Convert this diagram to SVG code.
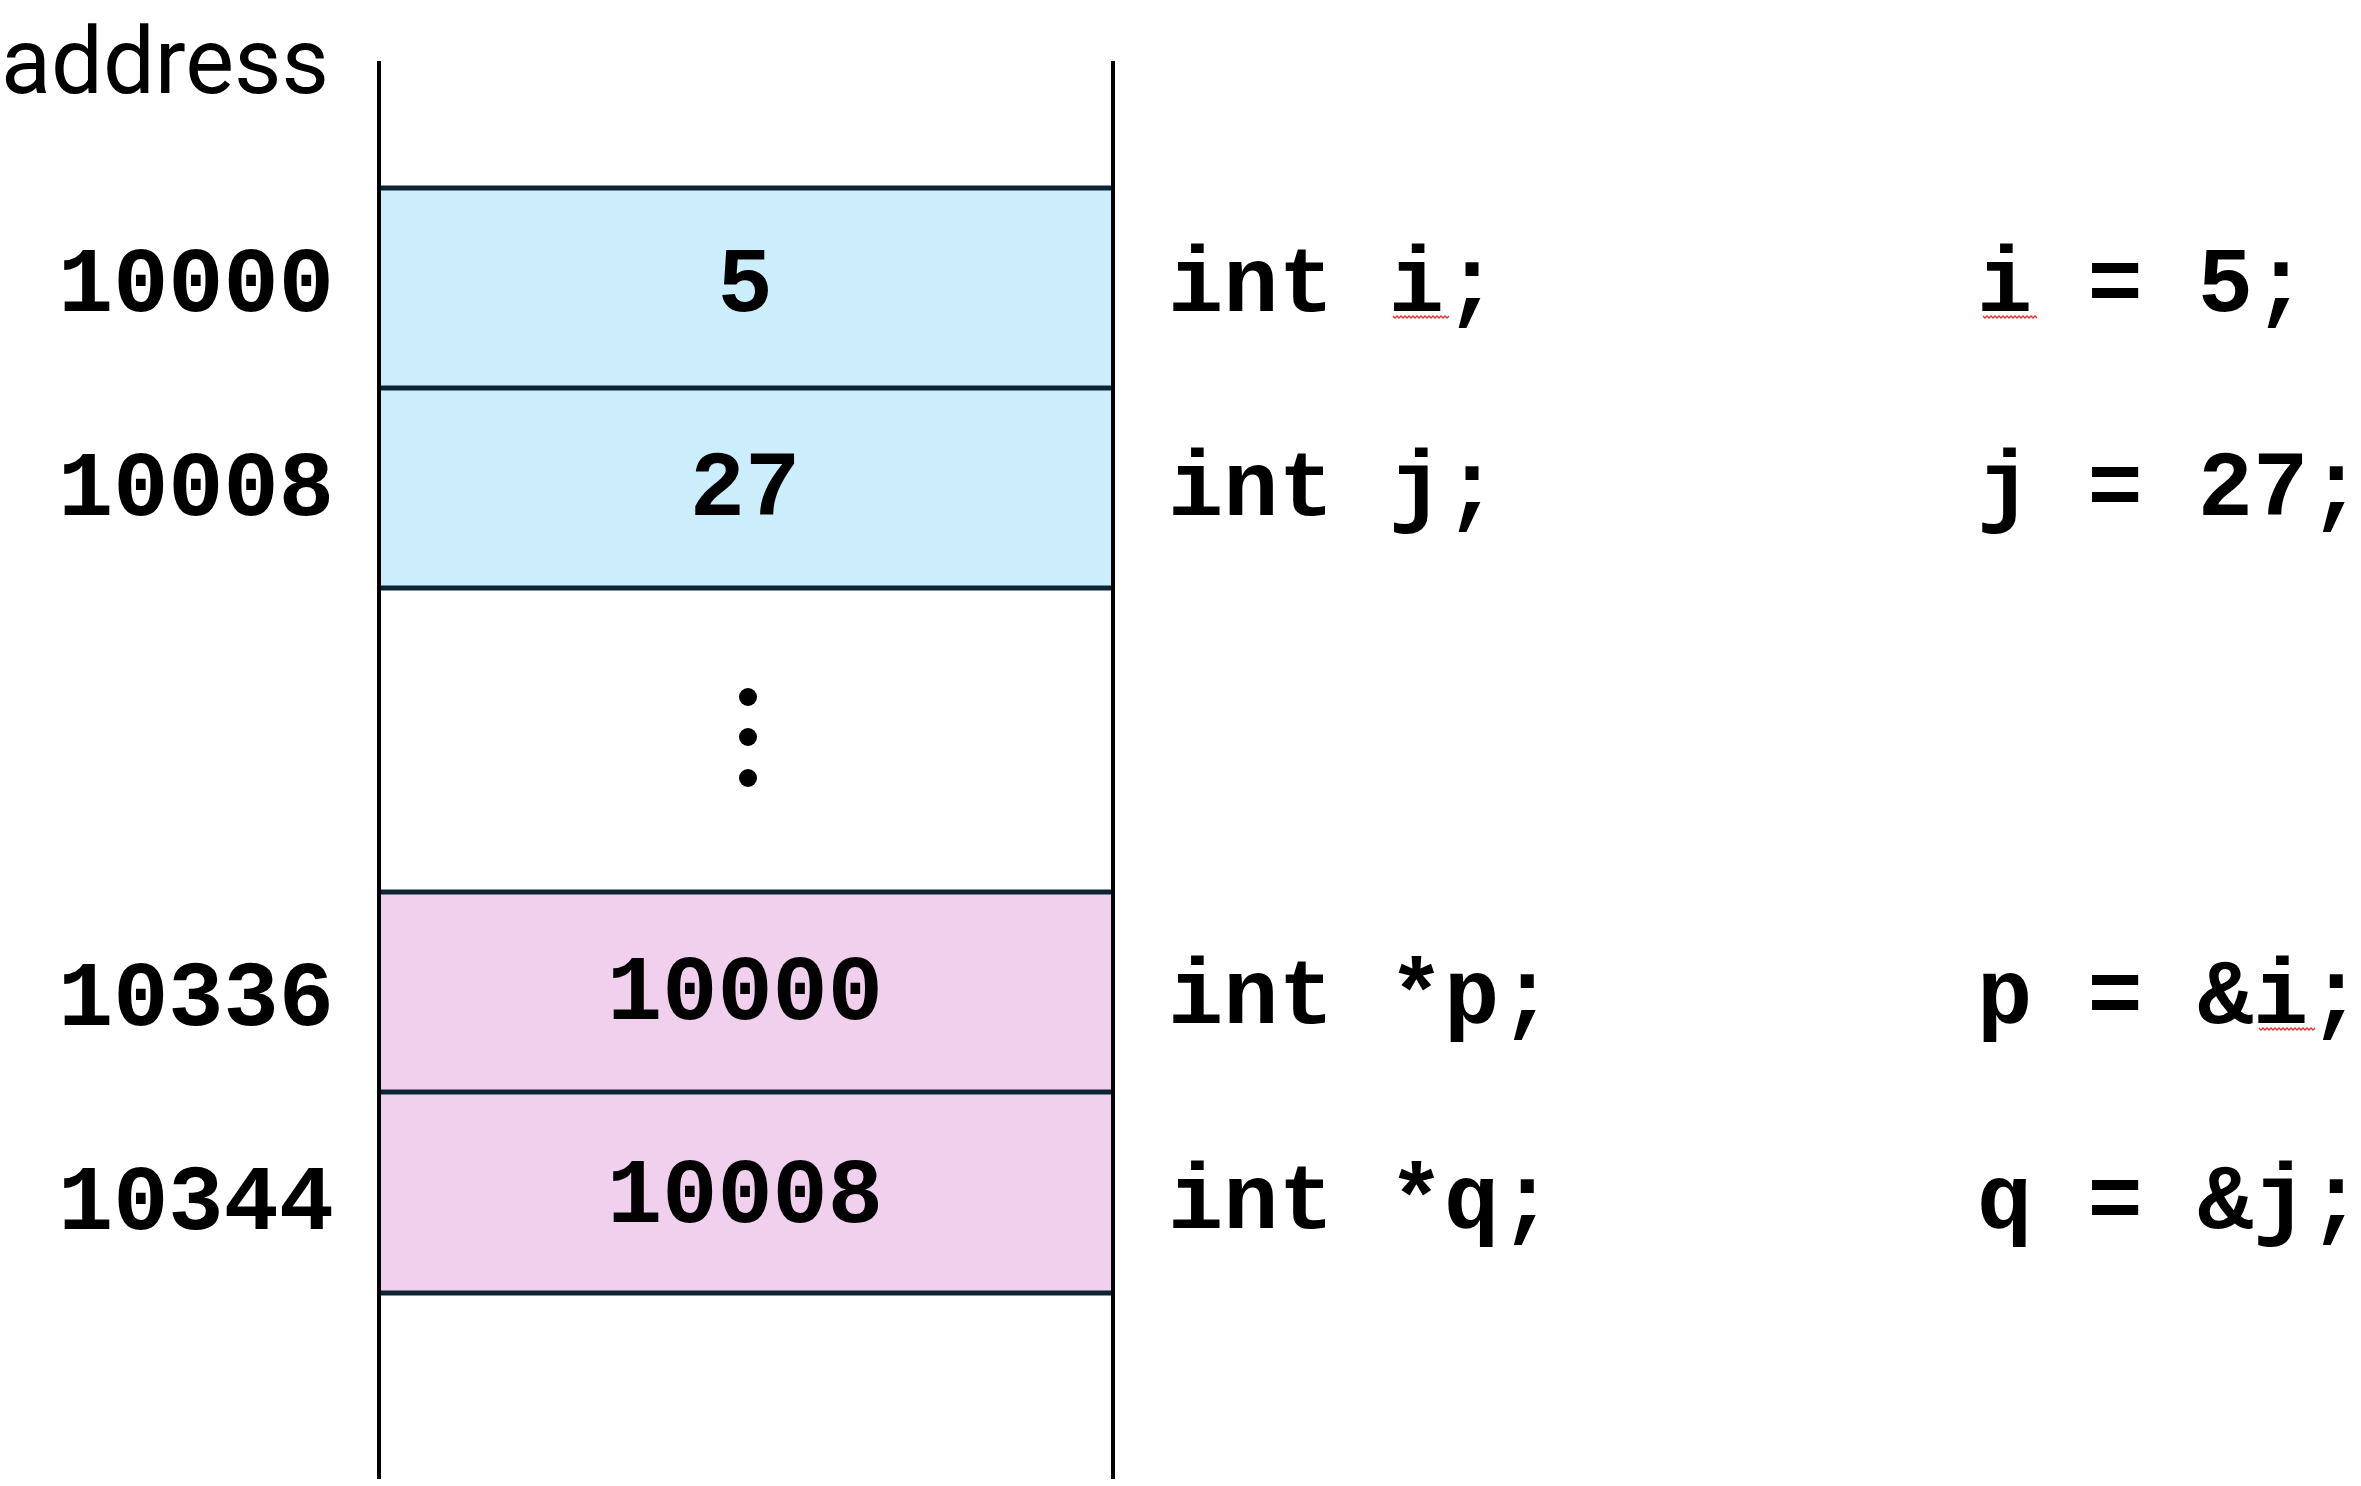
<svg xmlns="http://www.w3.org/2000/svg" width="2361" height="1486" viewBox="0 0 2361 1486">
<style>
.mono{font-family:"Liberation Mono","Courier New",monospace;font-weight:bold;font-size:92px;fill:#000}
.lbl{font-family:Roboto,"Liberation Sans",sans-serif;font-size:92px;fill:#000}
.cellb{fill:#cceefc}
.cellp{fill:#f1d0ee}
.hl{stroke:#0c2433;stroke-width:5}
.vl{stroke:#000;stroke-width:4}
.sq{fill:none;stroke:#e03030;stroke-width:1.3}
</style>
<rect width="2361" height="1486" fill="#fff"/>
<text class="lbl" x="1" y="93">address</text>
<g id="cell-10000">
<rect class="cellb" x="378" y="188" width="735" height="200"/>
<text class="mono" x="334" y="311" text-anchor="end">10000</text>
<text class="mono" x="745" y="311" text-anchor="middle">5</text>
<text class="mono" x="1168" y="311">int i;</text>
<text class="mono" x="1977" y="311">i = 5;</text>
</g>
<g id="cell-10008">
<rect class="cellb" x="378" y="388" width="735" height="200"/>
<text class="mono" x="334" y="515" text-anchor="end">10008</text>
<text class="mono" x="745" y="515" text-anchor="middle">27</text>
<text class="mono" x="1168" y="515">int j;</text>
<text class="mono" x="1977" y="515">j = 27;</text>
</g>
<g id="gap">
<circle cx="748" cy="697" r="9"/>
<circle cx="748" cy="737" r="9"/>
<circle cx="748" cy="778" r="9"/>
</g>
<g id="cell-10336">
<rect class="cellp" x="378" y="892" width="735" height="200"/>
<text class="mono" x="334" y="1025" text-anchor="end">10336</text>
<text class="mono" x="745" y="1019" text-anchor="middle">10000</text>
<text class="mono" x="1168" y="1023">int *p;</text>
<text class="mono" x="1977" y="1023">p = &amp;i;</text>
</g>
<g id="cell-10344">
<rect class="cellp" x="378" y="1092" width="735" height="201"/>
<text class="mono" x="334" y="1229" text-anchor="end">10344</text>
<text class="mono" x="745" y="1222" text-anchor="middle">10008</text>
<text class="mono" x="1168" y="1228">int *q;</text>
<text class="mono" x="1977" y="1228">q = &amp;j;</text>
</g>
<g id="connectors">
<line class="hl" x1="378" y1="188" x2="1113" y2="188"/>
<line class="hl" x1="378" y1="388" x2="1113" y2="388"/>
<line class="hl" x1="378" y1="588" x2="1113" y2="588"/>
<line class="hl" x1="378" y1="892" x2="1113" y2="892"/>
<line class="hl" x1="378" y1="1092" x2="1113" y2="1092"/>
<line class="hl" x1="378" y1="1293" x2="1113" y2="1293"/>
<line class="vl" x1="379" y1="61" x2="379" y2="1479"/>
<line class="vl" x1="1113" y1="61" x2="1113" y2="1479"/>
</g>
<g id="spellcheck">
<polyline class="sq" points="1393,316 1395,318 1397,316 1399,318 1401,316 1403,318 1405,316 1407,318 1409,316 1411,318 1413,316 1415,318 1417,316 1419,318 1421,316 1423,318 1425,316 1427,318 1429,316 1431,318 1433,316 1435,318 1437,316 1439,318 1441,316 1443,318 1445,316 1447,318 1449,316"/>
<polyline class="sq" points="1983,316 1985,318 1987,316 1989,318 1991,316 1993,318 1995,316 1997,318 1999,316 2001,318 2003,316 2005,318 2007,316 2009,318 2011,316 2013,318 2015,316 2017,318 2019,316 2021,318 2023,316 2025,318 2027,316 2029,318 2031,316 2033,318 2035,316 2037,318"/>
<polyline class="sq" points="2259,1028 2261,1030 2263,1028 2265,1030 2267,1028 2269,1030 2271,1028 2273,1030 2275,1028 2277,1030 2279,1028 2281,1030 2283,1028 2285,1030 2287,1028 2289,1030 2291,1028 2293,1030 2295,1028 2297,1030 2299,1028 2301,1030 2303,1028 2305,1030 2307,1028 2309,1030 2311,1028 2313,1030 2315,1028"/>
</g>
</svg>
